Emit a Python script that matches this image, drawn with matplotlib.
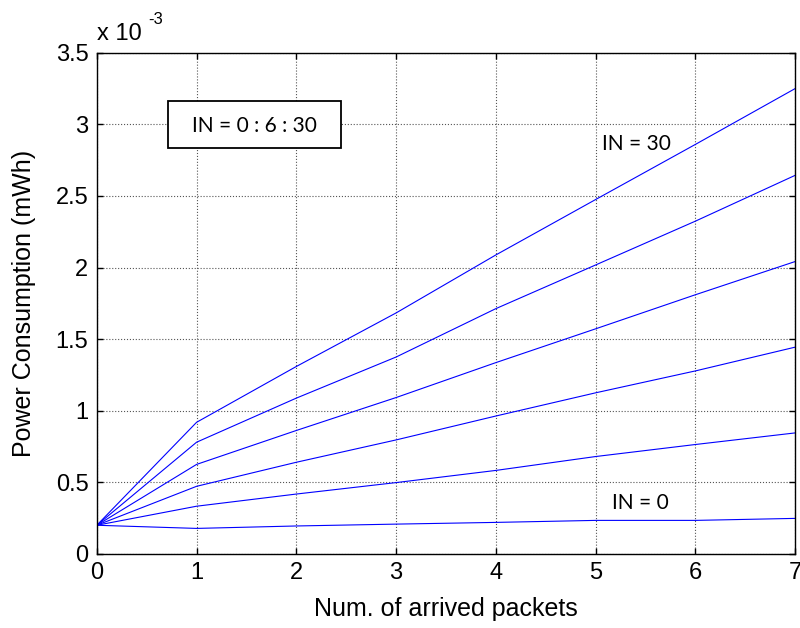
import numpy as np
import matplotlib
matplotlib.use('Agg')
import matplotlib.pyplot as plt
import matplotlib.transforms as mtransforms
from matplotlib.patches import Rectangle
from matplotlib.ticker import FormatStrFormatter

# number of arrived packets
packets = [0, 1, 2, 3, 4, 5, 6, 7]
# power consumption, in units of 1e-3 mWh, one list per IN value
in_values = [0, 6, 12, 18, 24, 30]
power_in0 = [0.20, 0.178, 0.195, 0.208, 0.220, 0.234, 0.234, 0.248]
power_in6 = [0.20, 0.333, 0.418, 0.498, 0.583, 0.680, 0.764, 0.845]
power_in12 = [0.20, 0.472, 0.640, 0.796, 0.963, 1.125, 1.278, 1.444]
power_in18 = [0.20, 0.625, 0.862, 1.092, 1.336, 1.572, 1.810, 2.042]
power_in24 = [0.20, 0.780, 1.088, 1.375, 1.713, 2.018, 2.324, 2.644]
power_in30 = [0.20, 0.919, 1.309, 1.683, 2.088, 2.475, 2.860, 3.250]
x_ticks = [0, 1, 2, 3, 4, 5, 6, 7]
y_ticks = [0, 0.5, 1, 1.5, 2, 2.5, 3, 3.5]

plt.rcParams['font.family'] = ['Liberation Sans', 'DejaVu Sans']

fig = plt.figure(figsize=(8, 6.28), dpi=100)
ax = fig.add_axes([0.121, 0.118, 0.873, 0.798])

for series in [power_in0, power_in6, power_in12, power_in18, power_in24, power_in30]:
    ax.plot(packets, series, color='#0000ff', linewidth=0.8)

ax.set_xlim(0, 7)
ax.set_ylim(0, 3.5)
ax.set_xticks(x_ticks)
ax.set_yticks(y_ticks)
ax.yaxis.set_major_formatter(FormatStrFormatter('%g'))
ax.grid(True, linestyle=':', color='#555555', linewidth=0.8)
ax.tick_params(direction='in', length=4, width=1, top=True, right=True,
               labelsize=17, pad=6, colors='black')
for sp in ax.spines.values():
    sp.set_linewidth(1.0)

ax.set_xlabel('Num. of arrived packets', fontsize=18, labelpad=9)
ax.set_ylabel('Power Consumption (mWh)', fontsize=18, labelpad=14)

# scale factor in the top-left corner
tr = mtransforms.offset_copy(ax.transAxes, fig=fig, x=0, y=13, units='dots')
ax.text(0.0, 1.0, 'x 10', transform=tr, fontsize=17, ha='left', va='baseline')
tr2 = mtransforms.offset_copy(ax.transAxes, fig=fig, x=51, y=41, units='dots')
ax.text(0.0, 1.0, '-3', transform=tr2, fontsize=12, ha='left', va='top')

# annotations
ann_font = ['Lato', 'DejaVu Sans']
ax.add_patch(Rectangle((0.102, 0.810), 0.248, 0.094, transform=ax.transAxes,
                       facecolor='white', edgecolor='black', linewidth=1.3, zorder=3))
ax.text(1.575, 2.99, 'IN = 0 : 6 : 30', fontsize=15, family=ann_font,
        ha='center', va='center', zorder=4)
ax.text(5.41, 2.86, 'IN = 30', fontsize=15, family=ann_font,
        ha='center', va='center')
ax.text(5.45, 0.355, 'IN = 0', fontsize=15, family=ann_font,
        ha='center', va='center')

fig.savefig('out.png', dpi=100)
